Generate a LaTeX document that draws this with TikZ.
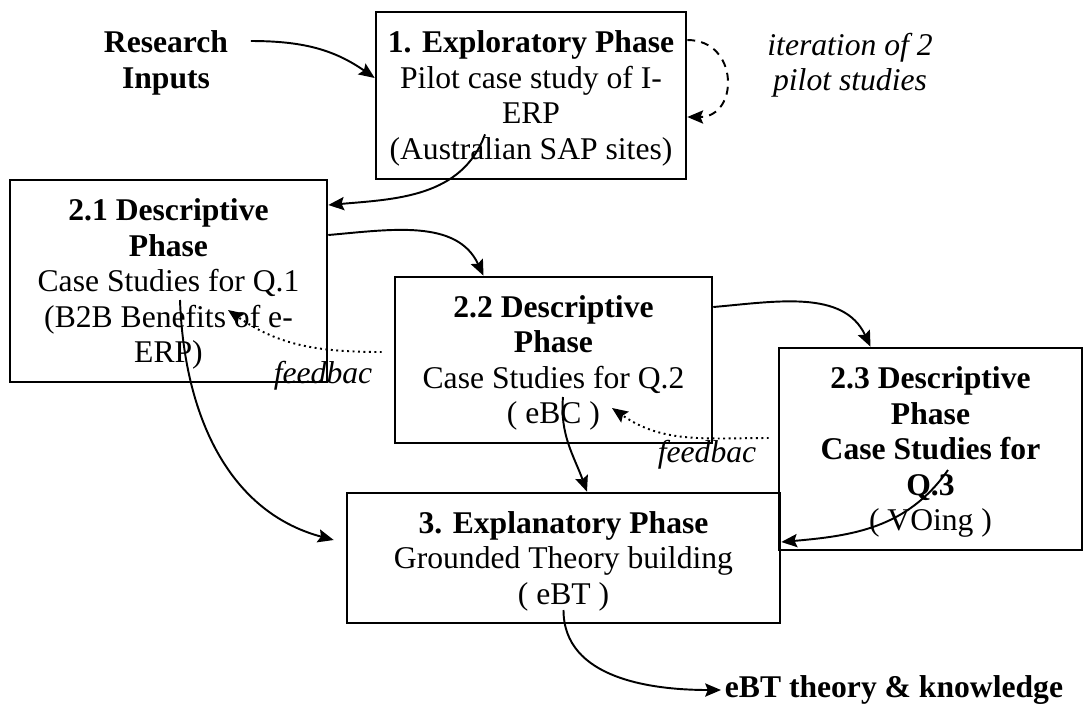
\documentclass[tikz,border=0pt]{standalone}
\usepackage{fontspec}
\setmainfont{Liberation Serif}
\usetikzlibrary{arrows.meta,positioning}
\newcommand{\phasesize}{\fontsize{18}{20.2}\selectfont}

\tikzset{
  phasebox/.style={draw,line width=1.5pt,align=center,inner sep=2pt,font=\phasesize},
  plain/.style={align=center,inner sep=2pt,font=\phasesize},
  flow/.style={line width=1.1pt,-{Stealth[length=9pt,width=7.5pt,inset=1.5pt]}},
  fbflow/.style={flow,dotted},
  loopflow/.style={flow,dash pattern=on 4.5pt off 3.5pt},
}

\begin{document}
\begin{tikzpicture}[x=0.02cm,y=-0.02cm]
  \useasboundingbox (0,0) rectangle (1085,708);

  % phases
  \node[phasebox,minimum width=6.2cm,minimum height=3.34cm] (box1) at (531,95.5)
    {\rule{0pt}{16pt}\textbf{1. Exploratory Phase}\\Pilot case study of I-\\ERP\\(Australian SAP sites)};
  \node[phasebox,minimum width=6.34cm,minimum height=4.04cm] (box21) at (168.5,281)
    {\rule{0pt}{16pt}\textbf{2.1 Descriptive}\\\textbf{Phase}\\Case Studies for Q.1\\(B2B Benefits of e-\\ERP)};
  \node[phasebox,minimum width=6.34cm,minimum height=3.32cm] (box22) at (553.5,360)
    {\rule{0pt}{16pt}\textbf{2.2 Descriptive}\\\textbf{Phase}\\Case Studies for Q.2\\( eBC )};
  \node[phasebox,minimum width=8.66cm,minimum height=2.6cm] (box3) at (563.5,558)
    {\rule{0pt}{16pt}\textbf{3. Explanatory Phase}\\Grounded Theory building\\( eBT )};
  \node[phasebox,minimum width=6.06cm,minimum height=4.04cm] (box23) at (930.5,449)
    {\rule{0pt}{16pt}\textbf{2.3 Descriptive}\\\textbf{Phase}\\\textbf{Case Studies for}\\\textbf{Q.3}\\( VOing )};

  % free texts
  \node[plain,font=\phasesize\bfseries] (inputs) at (166,63) {Research\\Inputs};
  \node[plain,font=\phasesize\bfseries,anchor=west] (output) at (721,690) {eBT theory \& knowledge};
  \node[plain,font=\phasesize\itshape] (iter) at (850,65) {iteration of 2\\pilot studies};
  \node[plain,font=\phasesize\itshape] (fb1) at (323,376) {feedbac};
  \node[plain,font=\phasesize\itshape] (fb2) at (707,455) {feedbac};

  % connectors
  \draw[flow] ([xshift=0.38cm,yshift=0.44cm]inputs.east) to[out=0,in=145] ([yshift=0.35cm]box1.west);
  \draw[loopflow] ([yshift=1.11cm]box1.east) to[out=0,in=0,distance=1.04cm] ([yshift=-0.43cm]box1.east);
  \draw[flow] ([xshift=-0.92cm,yshift=0.92cm]box1.south) to[out=-110,in=5] ([yshift=1.52cm]box21.east);
  \draw[flow] ([yshift=0.92cm]box21.east) to[out=5,in=115] ([xshift=-1.4cm]box22.north);
  \draw[flow] ([yshift=1.06cm]box22.east) to[out=5,in=115] ([xshift=-1.2cm]box23.north);
  \draw[fbflow] ([xshift=-0.24cm,yshift=0.16cm]box22.west) to[out=180,in=-35] ([xshift=1.19cm,yshift=-0.58cm]box21.center);
  \draw[fbflow] ([xshift=-0.18cm,yshift=0.22cm]box23.west) to[out=180,in=-35] ([xshift=1.17cm,yshift=-0.96cm]box22.center);
  \draw[flow] ([xshift=0.23cm,yshift=-0.38cm]box21.center) to[out=-88,in=165] ([xshift=-0.24cm,yshift=0.36cm]box3.west);
  \draw[flow] ([xshift=0.19cm,yshift=-0.74cm]box22.center) to[out=-95,in=110] ([xshift=0.47cm]box3.north);
  \draw[flow] ([xshift=0.35cm,yshift=-0.42cm]box23.center) to[out=-125,in=5] ([yshift=0.32cm]box3.east);
  \draw[flow] ([yshift=-1.04cm]box3.center) to[out=-90,in=180] (output.west);
\end{tikzpicture}
\end{document}
